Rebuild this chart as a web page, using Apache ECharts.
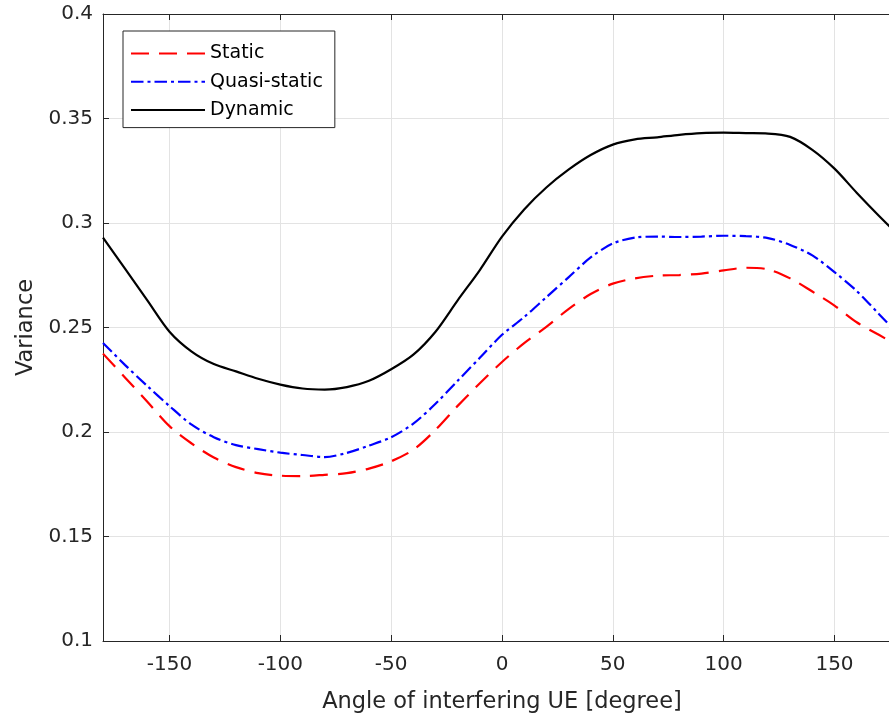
<!DOCTYPE html>
<html>
<head>
<meta charset="utf-8">
<script src="https://cdn.jsdelivr.net/npm/echarts@6/dist/echarts.min.js"></script>
<style>
html,body{margin:0;padding:0;background:#fff;overflow:hidden;}
#chart{width:901px;height:720px;}
</style>
</head>
<body>
<div id="chart"></div>
<script>
const angles = [-180,-170,-160,-150,-140,-130,-120,-110,-100,-90,-80,-70,-60,-50,-40,-30,-20,-10,0,10,20,30,40,50,60,70,80,90,100,110,120,130,140,150,160,170,180];
const staticVals = [0.2375,0.226,0.2145,0.2028,0.1945,0.1878,0.1832,0.1803,0.1791,0.1789,0.1795,0.1803,0.1825,0.186,0.1915,0.201,0.2125,0.2233,0.2335,0.2425,0.2503,0.2588,0.266,0.271,0.2735,0.2748,0.2751,0.2758,0.2773,0.2786,0.2778,0.2735,0.2672,0.2605,0.2525,0.2465,0.2405];
const quasiVals = [0.2426,0.232,0.222,0.2124,0.2035,0.1975,0.1937,0.1918,0.1901,0.189,0.188,0.19,0.1935,0.1975,0.204,0.2135,0.2245,0.2355,0.2465,0.255,0.2645,0.274,0.2835,0.2902,0.293,0.2935,0.2933,0.2935,0.2939,0.2937,0.2928,0.2895,0.2845,0.2765,0.2675,0.2565,0.2455];
const dynamicVals = [0.293,0.278,0.263,0.248,0.2385,0.2325,0.229,0.2255,0.2227,0.2208,0.2203,0.2215,0.2245,0.23,0.237,0.248,0.263,0.2775,0.2935,0.3065,0.317,0.3255,0.3325,0.3375,0.34,0.341,0.3422,0.343,0.3432,0.343,0.3428,0.3412,0.335,0.326,0.3145,0.3035,0.293];
const seriesNames = ['Static','Quasi-static','Dynamic'];
const xTitle = 'Angle of interfering UE [degree]';
const yTitle = 'Variance';

const txt = '#262626';
const font = '"DejaVu Sans", sans-serif';
const pair = (vals) => angles.map((a, i) => [a, vals[i]]);

const chart = echarts.init(document.getElementById('chart'), null, {renderer: 'canvas'});
chart.setOption({
  animation: false,
  backgroundColor: '#fff',
  grid: {left: 103, top: 14, right: 0, bottom: 79, containLabel: false},
  legend: {
    orient: 'vertical', left: 123, top: 31,
    padding: [13, 12, 8, 7],
    itemWidth: 74, itemHeight: 20, itemGap: 9.3,
    borderColor: '#262626', borderWidth: 1, backgroundColor: '#fff',
    itemStyle: {opacity: 0},
    textStyle: {fontFamily: font, fontSize: 19, color: '#000'},
    data: seriesNames
  },
  xAxis: [{
    type: 'value', min: -180, max: 180, splitNumber: 7,
    name: xTitle, nameLocation: 'middle', nameGap: 50,
    nameTextStyle: {fontFamily: font, fontSize: 22.5, color: txt},
    axisLine: {show: true, onZero: false, lineStyle: {color: txt, width: 1}},
    axisTick: {show: true, inside: true, length: 6, lineStyle: {color: txt}},
    axisLabel: {fontFamily: font, fontSize: 20, color: txt, margin: 14, showMinLabel: false, showMaxLabel: false,
      formatter: v => (Math.abs(v % 50) < 1e-9 ? String(v) : '')},
    splitLine: {show: true, lineStyle: {color: '#e3e3e3', width: 1}}
  }, {
    type: 'value', min: -180, max: 180, splitNumber: 7, position: 'top',
    axisLine: {show: true, onZero: false, lineStyle: {color: txt, width: 1}},
    axisTick: {show: true, inside: true, length: 6, lineStyle: {color: txt}},
    axisLabel: {show: false},
    splitLine: {show: false}
  }],
  yAxis: {
    type: 'value', min: 0.1, max: 0.4, interval: 0.05,
    name: yTitle, nameLocation: 'middle', nameGap: 65, nameRotate: 90,
    nameTextStyle: {fontFamily: font, fontSize: 22.5, color: txt},
    axisLine: {show: true, onZero: false, lineStyle: {color: txt, width: 1}},
    axisTick: {show: true, inside: true, length: 6, lineStyle: {color: txt}},
    axisLabel: {fontFamily: font, fontSize: 20, color: txt, margin: 10},
    splitLine: {show: true, lineStyle: {color: '#e3e3e3', width: 1}}
  },
  series: [{
    name: seriesNames[0], type: 'line', data: pair(staticVals), symbol: 'none', smooth: 0.3,
    lineStyle: {color: '#ff0000', width: 2.2, type: [18, 10]}, itemStyle: {color: '#ff0000'}, z: 3
  }, {
    name: seriesNames[1], type: 'line', data: pair(quasiVals), symbol: 'none', smooth: 0.3,
    lineStyle: {color: '#0000ff', width: 2.2, type: [12.5, 4, 3, 4]}, itemStyle: {color: '#0000ff'}, z: 3
  }, {
    name: seriesNames[2], type: 'line', data: pair(dynamicVals), symbol: 'none', smooth: 0.3,
    lineStyle: {color: '#000000', width: 2.2, type: 'solid'}, itemStyle: {color: '#000000'}, z: 3
  }]
});
</script>
</body>
</html>
